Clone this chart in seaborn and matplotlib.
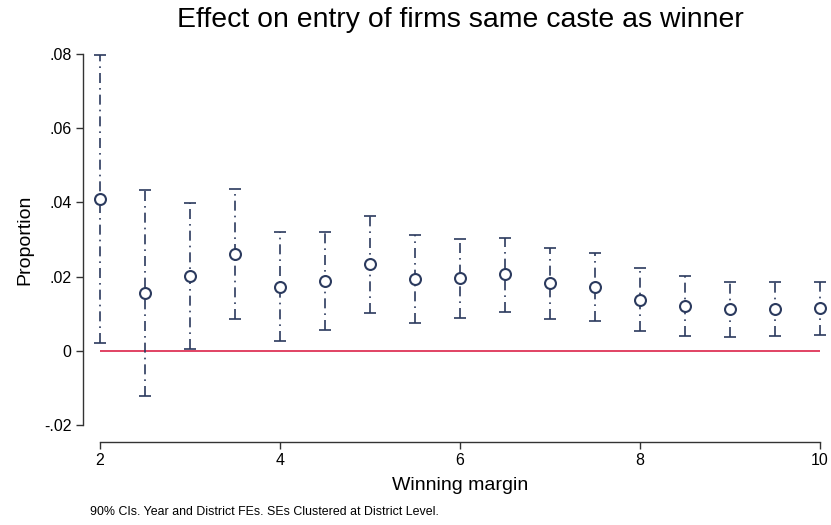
import pandas as pd
import matplotlib
matplotlib.use("Agg")
import matplotlib.pyplot as plt
import seaborn as sns

# --- DATA ---
margin = [2, 2.5, 3, 3.5, 4, 4.5, 5, 5.5, 6, 6.5, 7, 7.5, 8, 8.5, 9, 9.5, 10]
estimate = [0.0410, 0.0156, 0.0202, 0.0261, 0.0172, 0.0189, 0.0233, 0.0194, 0.0195,
            0.0206, 0.0182, 0.0172, 0.0138, 0.0121, 0.0112, 0.0113, 0.0116]
ci_low = [0.0022, -0.0121, 0.0005, 0.0086, 0.0027, 0.0057, 0.0102, 0.0075, 0.0088,
          0.0105, 0.0086, 0.0081, 0.0054, 0.0040, 0.0037, 0.0040, 0.0043]
ci_high = [0.0798, 0.0434, 0.0399, 0.0437, 0.0321, 0.0319, 0.0362, 0.0312, 0.0301,
           0.0305, 0.0278, 0.0263, 0.0222, 0.0201, 0.0186, 0.0186, 0.0186]
y_ticks = [-0.02, 0, 0.02, 0.04, 0.06, 0.08]
y_ticklabels = ["-.02", "0", ".02", ".04", ".06", ".08"]
x_ticks = [2, 4, 6, 8, 10]

df = pd.DataFrame({"margin": margin, "estimate": estimate, "lo": ci_low, "hi": ci_high})

sns.set_theme(style="white")
plt.rcParams["font.family"] = ["Liberation Sans", "DejaVu Sans"]
plt.rcParams["text.color"] = "black"
plt.rcParams["axes.labelcolor"] = "black"

NAVY = "#2b3a5e"
RED = "#dc2249"

fig = plt.figure(figsize=(8.31, 5.25), dpi=100)
ax = fig.add_axes([0.1203, 0.1905, 0.8664, 0.7067])

# zero reference line
ax.axhline(0, color=RED, lw=1.2, zorder=1)

# confidence intervals
err = ax.errorbar(df["margin"], df["estimate"],
                  yerr=[df["estimate"] - df["lo"], df["hi"] - df["estimate"]],
                  fmt="none", ecolor=NAVY, elinewidth=1.2, capsize=4, capthick=1.2, zorder=2)
for lc in err[2]:
    lc.set_linestyle((0, (6, 3, 1, 3)))
    lc.set_clip_on(False)
for cap in err[1]:
    cap.set_clip_on(False)

# point estimates
sns.scatterplot(data=df, x="margin", y="estimate", ax=ax, marker="o", s=62,
                facecolor="white", edgecolor=NAVY, linewidth=1.5, zorder=3,
                clip_on=False)

ax.set_xlim(2, 10)
ax.set_ylim(-0.02, 0.08)
ax.set_xticks(x_ticks)
ax.set_xticklabels([str(t) for t in x_ticks])
ax.set_yticks(y_ticks)
ax.set_yticklabels(y_ticklabels)

for side in ["top", "right"]:
    ax.spines[side].set_visible(False)
for side in ["left", "bottom"]:
    ax.spines[side].set_color("#333333")
    ax.spines[side].set_linewidth(1.0)
ax.spines["left"].set_position(("outward", 12))
ax.spines["bottom"].set_position(("outward", 12))

ax.tick_params(axis="both", which="major", direction="out", length=5, width=1.0,
               color="#333333", labelsize=11.5, labelcolor="black",
               left=True, bottom=True)

ax.set_xlabel("Winning margin", fontsize=14, labelpad=6)
ax.set_ylabel("Proportion", fontsize=14, labelpad=8)
fig.text(0.5535, 0.962, "Effect on entry of firms same caste as winner",
         ha="center", va="center", fontsize=20.4, color="black")
fig.text(0.108, 0.025, "90% CIs. Year and District FEs. SEs Clustered at District Level.",
         ha="left", va="center", fontsize=8.9, color="black")

fig.savefig("out.png", dpi=100, facecolor="white")
plt.close(fig)
